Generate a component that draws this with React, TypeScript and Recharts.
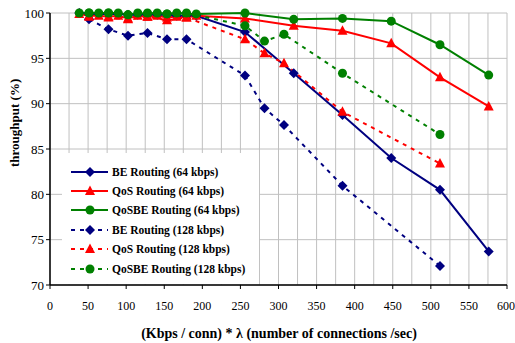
import React from "react";
import { LineChart, Line, XAxis, YAxis, CartesianGrid } from "recharts";

const x64 = [38.4, 51.2, 64, 76.8, 89.6, 102.4, 115.2, 128, 140.8, 153.6, 166.4, 179.2, 192, 256, 320, 384, 448, 512, 576];
const x128 = [51.2, 76.8, 102.4, 128, 153.6, 179.2, 256, 281.6, 307.2, 384, 512];

const be64 = [100, 99.9, 99.9, 99.9, 99.9, 99.8, 99.8, 99.8, 99.8, 99.8, 99.7, 99.7, 99.7, 97.9, 93.35, 88.75, 84.0, 80.5, 73.7];
const qos64 = [99.9, 99.7, 99.7, 99.6, 99.7, 99.4, 99.7, 99.6, 99.7, 99.5, 99.6, 99.5, 99.7, 99.4, 98.6, 98.05, 96.65, 92.9, 89.7];
const qosbe64 = [100, 100, 100, 100, 100, 99.8, 100, 99.9, 100, 99.9, 100, 99.9, 99.9, 100, 99.3, 99.4, 99.1, 96.5, 93.15];

const be128 = [99.3, 98.2, 97.5, 97.8, 97.1, 97.1, 93.1, 89.5, 87.65, 80.95, 72.1];
const qos128 = [99.6, 99.5, 99.3, 99.6, 99.2, 99.5, 97.1, 95.55, 94.45, 89.1, 83.4];
const qosbe128 = [100, 100, 99.8, 100, 99.9, 100, 98.6, 96.9, 97.65, 93.35, 86.6];

const xTicks = [0, 50, 100, 150, 200, 250, 300, 350, 400, 450, 500, 550, 600];
const yTicks = [70, 75, 80, 85, 90, 95, 100];
const gridX = Array.from({ length: 25 }, (_, i) => i * 25);

const toPts = (xs: number[], ys: number[]) => xs.map((x, i) => ({ x, y: ys[i] }));

const NAVY = "#000080";
const RED = "#ff0000";
const GREEN = "#008000";
const FONT = "Liberation Serif, serif";

const Diamond = (props: any) => {
  const { cx, cy, fill } = props;
  if (cx == null || cy == null) return null;
  return <polygon points={`${cx},${cy - 5} ${cx + 5},${cy} ${cx},${cy + 5} ${cx - 5},${cy}`} fill={fill} />;
};
const Triangle = (props: any) => {
  const { cx, cy, fill } = props;
  if (cx == null || cy == null) return null;
  return <polygon points={`${cx},${cy - 5.5} ${cx + 5},${cy + 4} ${cx - 5},${cy + 4}`} fill={fill} />;
};
const Circle = (props: any) => {
  const { cx, cy, fill } = props;
  if (cx == null || cy == null) return null;
  return <circle cx={cx} cy={cy} r={4.5} fill={fill} />;
};

const series = [
  { name: "BE Routing (64 kbps)", xs: x64, ys: be64, color: NAVY, dash: undefined, Mark: Diamond },
  { name: "QoS Routing (64 kbps)", xs: x64, ys: qos64, color: RED, dash: undefined, Mark: Triangle },
  { name: "QoSBE Routing (64 kbps)", xs: x64, ys: qosbe64, color: GREEN, dash: undefined, Mark: Circle },
  { name: "BE Routing (128 kbps)", xs: x128, ys: be128, color: NAVY, dash: "4 5", Mark: Diamond },
  { name: "QoS Routing (128 kbps)", xs: x128, ys: qos128, color: RED, dash: "4 5", Mark: Triangle },
  { name: "QoSBE Routing (128 kbps)", xs: x128, ys: qosbe128, color: GREEN, dash: "4 5", Mark: Circle },
];

function LegendBox() {
  return (
    <div
      style={{
        position: "absolute",
        left: 62,
        top: 153,
        width: 197,
        height: 131,
        background: "#fff",
        paddingTop: 9,
        boxSizing: "border-box",
      }}
    >
      {series.map((s) => (
        <div key={s.name} style={{ display: "flex", alignItems: "center", height: 19.4 }}>
          <svg width={50} height={12} style={{ flex: "none" }}>
            <line x1={9} y1={6} x2={46} y2={6} stroke={s.color} strokeWidth={2} strokeDasharray={s.dash} />
            <s.Mark cx={28} cy={6} fill={s.color} />
          </svg>
          <span style={{ fontFamily: FONT, fontWeight: "bold", fontSize: 11.5, color: "#000", whiteSpace: "nowrap" }}>{s.name}</span>
        </div>
      ))}
    </div>
  );
}

export default function App() {
  return (
    <div style={{ position: "absolute", left: 0, top: 0, width: 515, height: 343, background: "#fff" }}>
      <LineChart width={515} height={343} margin={{ top: 13, right: 8, left: 0, bottom: 0 }}>
        <CartesianGrid
          stroke="#c0c0c0"
          strokeWidth={1}
          verticalCoordinatesGenerator={({ offset }: any) => gridX.map((v) => offset.left + (v / 600) * offset.width)}
        />
        <XAxis
          type="number"
          dataKey="x"
          domain={[0, 600]}
          ticks={xTicks}
          allowDuplicatedCategory={false}
          height={58}
          tickSize={4}
          tickMargin={12}
          stroke="#000"
          axisLine={{ stroke: "#000", strokeWidth: 1.5 }}
          tick={{ fill: "#000", fontFamily: FONT, fontSize: 12 }}
          label={() => (
            <text x={279} y={338} textAnchor="middle" fontFamily={FONT} fontWeight="bold" fontSize={14} fill="#000">
              (Kbps / conn) * λ (number of connections /sec)
            </text>
          )}
        />
        <YAxis
          type="number"
          domain={[70, 100]}
          ticks={yTicks}
          width={50}
          tickSize={4}
          tickMargin={2}
          stroke="#000"
          axisLine={{ stroke: "#000", strokeWidth: 1.5 }}
          tick={{ fill: "#000", fontFamily: FONT, fontSize: 13 }}
          label={() => (
            <text x={19} y={167} transform="rotate(-90 19 167)" textAnchor="start" fontFamily={FONT} fontWeight="bold" fontSize={13} fill="#000">
              throughput (%)
            </text>
          )}
        />
        {series.map((s) => (
          <Line
            key={s.name}
            name={s.name}
            data={toPts(s.xs, s.ys)}
            dataKey="y"
            type="linear"
            stroke={s.color}
            strokeWidth={2}
            strokeDasharray={s.dash}
            dot={(p: any) => <s.Mark key={`${s.name}-${p.index}`} cx={p.cx} cy={p.cy} fill={s.color} />}
            activeDot={false}
            isAnimationActive={false}
          />
        ))}
      </LineChart>
      <LegendBox />
    </div>
  );
}
